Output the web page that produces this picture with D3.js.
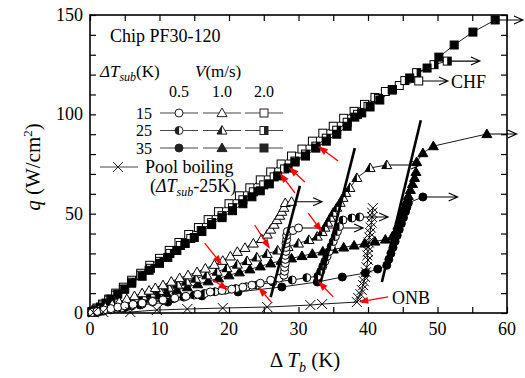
<!DOCTYPE html>
<html>
<head>
<meta charset="utf-8">
<script src="https://d3js.org/d3.v7.min.js"></script>
<style>
body { margin:0; background:#fff; }
text { font-family: "Liberation Serif", "Times New Roman", serif; fill:#000; }
</style>
</head>
<body>
<div id="chart"></div>
<script>
// ---- data: [dTb (K), q (W/cm2)] ----
// V = 2.0 m/s (squares)
var sq15 = [[0.3,0.7],[1,2.5],[1.8,4.5],[2.7,7],[3.7,10],[4.8,13],[6,16.5],[7.3,20],[8.6,24],[10,27.5],[11.4,31.5],[12.8,35.5],[14.2,39.5],[15.6,43],[17,47],[18.5,51],[20,55],[21.5,59],[23,63],[24.5,67],[26,71],[27.5,75],[29,79],[30.5,82.5],[32,86.5],[33.5,90.5],[35,94],[36.5,98],[38,101.5],[39.5,105],[41,108.5],[42.5,111.5],[44.5,114.5],[47.3,116.8]];
var sq25 = [[0.3,0.5],[1,2],[1.8,4],[2.7,6.5],[3.7,9],[4.8,12],[6,15.5],[7.3,19],[8.7,22.5],[10,26],[11.5,30],[13,34],[14.5,37.5],[16,41.5],[17.5,45.5],[19,49],[20.5,53],[22,57],[23.5,61],[25,64.5],[26.5,68.5],[28,72.5],[29.5,76.5],[31,80],[32.5,84],[34,88],[35.5,92],[37,96],[38.5,100],[40,104],[41.5,108],[43.5,112.5],[45.3,117],[47,121],[49.5,125],[51.4,126.8]];
var sq35 = [[0.3,0.5],[0.8,1.5],[1.5,3],[2.3,5],[3,7],[4,9.5],[5,12],[6,15],[7.5,18.5],[8.5,21.5],[10,25],[11.2,28],[12.5,31.5],[13.7,35],[15,38],[16.1,41],[17.5,44.5],[19,48],[20.5,51.5],[22,55],[23.3,58.5],[24.5,61.5],[25.8,65],[27,69],[28.5,73],[29.5,76],[31,79],[32.5,83],[34,86.5],[35.5,90],[37,94],[38.1,98.6],[39.1,100.7],[40.3,103.7],[41.7,107.2],[43.5,112.2],[46,118.3],[48.5,123.3],[50.2,128.8],[52.4,134.9],[55.1,141.4],[58.3,147.5]];
// V = 1.0 m/s (triangles)
var tri15 = [[0.4,0.5],[1.2,1.5],[2.2,2.8],[3.2,4.2],[4.2,5.5],[5.3,7],[6.4,8.5],[7.5,10],[8.5,11.3],[9.4,12.6],[10.5,14],[11.7,15.8],[12.9,17.6],[14.1,19],[15.4,20.6],[16.6,22.4],[17.9,24.3],[19.1,26.3],[20.2,28.5],[21.2,30.8],[22.3,32.8],[23.5,35],[24.7,37.3],[25.5,39.5],[26,42],[26.5,44.5],[26.9,46.8],[27.3,49],[27.6,51],[27.9,53],[28.1,55.4],[29,56]];
var tri25 = [[0.4,0.4],[1.2,1.2],[2.2,2.4],[3.2,3.6],[4.3,4.8],[5.4,6],[6.5,7.2],[7.6,8.4],[8.8,9.8],[10,11.2],[11.3,12.8],[12.6,14.3],[13.9,15.8],[15.2,17.3],[16.8,19],[18.3,20.8],[19.7,22.6],[21.2,24.4],[22.6,26.2],[24,28],[25.5,29.8],[27,31.5],[28.5,33.3],[30,35],[31.5,36.8],[32.7,38.5],[33.4,40.8],[33.8,43],[34.2,45.5],[34.6,48],[35,50.5],[35.5,53],[36,55.5],[36.4,58],[36.8,60.5],[37.4,63],[38.4,68],[40.3,73],[42.7,74.5]];
var tri35 = [[0.4,0.3],[1.3,1],[2.3,2],[3.4,3],[4.5,4],[5.7,5],[7,6.2],[8.3,7.5],[9.7,8.8],[11,10],[12.5,11.5],[14,13],[15.5,14.5],[17,16],[18.5,17.5],[20,19],[21.5,20.5],[23,22],[24.5,23.5],[26,25],[27.5,26.3],[29,27.5],[30.5,28.7],[32,29.8],[33.5,31],[35,32],[36.5,33],[38,34],[39.5,35],[41,36],[42.5,37],[43.5,38.5],[44,41],[44.3,44],[44.6,47],[44.9,50],[45.2,53],[45.5,56],[45.8,59],[46.1,62],[46.4,65],[46.7,68],[46.9,71],[47,76],[47.9,80.5],[49.4,84],[57.1,90.1]];
// V = 0.5 m/s (circles)
var cir15 = [[0.3,0.3],[1,0.8],[2,1.5],[3,2.2],[4,3],[5,3.6],[6.2,4.3],[7.5,5],[9,5.8],[10.5,6.6],[12.2,7.5],[13.8,8.4],[15.5,9.4],[17.3,10.6],[19,11.3],[20.4,12],[22,13],[23.3,14],[24.5,15],[26,16.5],[27.2,17.5],[27.9,19],[28,21],[28,23],[28.1,25],[28.1,27],[28.1,29],[28.2,31],[28.2,33],[28.2,35],[28.3,37],[28.3,39],[28.4,41],[29.2,41.5],[30,42.8]];
var cir25 = [[0.3,0.2],[1,0.5],[2,1],[3,1.7],[4.5,2.5],[6,3.5],[7.5,4.5],[9,5.5],[10.5,6.3],[12,7.2],[13.5,8],[15,9],[16.5,9.8],[18,10.7],[19.5,11.5],[21,12.3],[22.5,13.2],[24,14],[26.3,15.6],[29.1,16.6],[31.2,17.8],[32.8,18.5],[33.2,21],[33.5,23.5],[33.8,26],[34.1,28.5],[34.4,31],[34.7,33.5],[35,36],[35.3,38.5],[35.6,41],[35.9,43.5],[36.4,46.8],[37.7,47.8],[38.8,48.3]];
var cir35 = [[0.3,0.2],[1.5,0.8],[3,1.6],[5,2.8],[7.2,4],[11.2,5.5],[16.1,8.6],[21.3,10.6],[27.6,13.1],[32.7,15.6],[36.3,18.1],[39.6,20.1],[41.4,22.1],[42.7,24],[43,27],[43.3,30],[43.6,33],[43.9,36],[44.2,39],[44.5,42],[44.8,45],[45.1,48],[45.4,51],[45.6,53.3],[45.8,55.4],[47.9,58.4]];
// pool boiling, dTsub = 25 K (crosses)
var pool = [[0.5,0.3],[1.9,0.5],[5.8,0.5],[9.6,1.5],[14,2],[19.1,2.5],[25.5,3],[31.7,4],[33.4,4.5],[38.4,5.5],[38.6,7.5],[38.9,9.5],[39.1,11.6],[39.3,14],[39.4,16],[39.6,18.1],[39.7,20.5],[39.8,23],[40,26.7],[39.9,29],[40,31],[40,33.2],[40.1,35.5],[40.2,38],[40.3,40.3],[40.4,43],[40.5,45.5],[40.6,48.3],[40.6,50.5],[40.7,52.8]];

// CHF arrows: series end -> dTb where the arrow tip sits
var chfEnds = [62.3, 56.1, 51.5, 61.4, 47.5, 33.4, 52.9, 42.9, 39.3];
// thick onset lines [x1,q1,x2,q2]
var onsetLines = [[26.0,8,30.2,64],[33.1,14.1,38.1,83],[42.0,15.6,47.6,97]];
// red ONB arrows [tailX,tailQ,headX,headQ]
var redArrows = [[35.7,76.5,32.8,84],[30.9,65.9,28.6,73.5],[29.5,60.4,27.3,70.5],
  [16.5,35.2,19,24.2],[23.7,44.3,25.9,32.2],[31.4,50.3,33.4,40.8],
  [17.7,16.6,19.9,11.6],[26.2,5,24.2,13.1],[35,8.1,32.8,16.1],[42.9,8.1,38.6,5.5]];

var xTicks = [0,10,20,30,40,50,60];
var yTicks = [0,50,100,150];

var W = 525, H = 378;
var svg = d3.select("#chart").append("svg").attr("width", W).attr("height", H);

var x = d3.scaleLinear().domain([0,60]).range([90,507]);
var y = d3.scaleLinear().domain([0,150]).range([313,15]);

// axes: inward ticks on all four sides
svg.append("g").attr("transform","translate(0,313)")
  .call(d3.axisBottom(x).tickValues(d3.range(0,61,5)).tickSize(-6).tickFormat(""));
svg.append("g").attr("transform","translate(0,15)")
  .call(d3.axisTop(x).tickValues(d3.range(0,61,5)).tickSize(-6).tickFormat(""));
svg.append("g").attr("transform","translate(90,0)")
  .call(d3.axisLeft(y).tickValues(d3.range(0,151,10)).tickSize(-6).tickFormat(""));
svg.append("g").attr("transform","translate(507,0)")
  .call(d3.axisRight(y).tickValues(d3.range(0,151,10)).tickSize(-6).tickFormat(""));
svg.selectAll(".domain").remove();
svg.selectAll(".tick line").attr("stroke","#000").attr("stroke-width",1.2);
svg.append("rect").attr("x",90).attr("y",15).attr("width",417).attr("height",298)
  .attr("fill","none").attr("stroke","#000").attr("stroke-width",1.6);

svg.selectAll(".xl").data(xTicks).enter().append("text")
  .attr("x", function(d){ return x(d); }).attr("y", 335)
  .attr("text-anchor","middle").style("font-size","18px").text(function(d){ return d; });
svg.selectAll(".yl").data(yTicks).enter().append("text")
  .attr("x", 83).attr("y", function(d){ return y(d) + 6; })
  .attr("text-anchor","end").style("font-size","18px").text(function(d){ return d; });

// axis titles
var xt = svg.append("text").attr("x",305).attr("y",367).attr("text-anchor","middle").style("font-size","21px");
xt.append("tspan").text("\u0394 ");
xt.append("tspan").style("font-style","italic").text("T");
xt.append("tspan").style("font-style","italic").style("font-size","14px").attr("dy",5).text("b");
xt.append("tspan").attr("dy",-5).text(" (K)");
var yt = svg.append("text").attr("transform","translate(40,167) rotate(-90)").attr("text-anchor","middle").style("font-size","21px");
yt.append("tspan").style("font-style","italic").text("q");
yt.append("tspan").text(" (W/cm");
yt.append("tspan").style("font-size","13px").attr("dy",-8).text("2");
yt.append("tspan").attr("dy",8).text(")");

// marker drawing
function marker(g, shape, fill, cx, cy, col) {
  col = col || "#000";
  if (shape === "circle") {
    g.append("circle").attr("cx",cx).attr("cy",cy).attr("r",4).attr("fill", fill === "full" ? col : "#fff").attr("stroke",col).attr("stroke-width",1);
    if (fill === "half") g.append("path").attr("d","M"+cx+","+(cy-4)+" A4,4 0 0,0 "+cx+","+(cy+4)+" Z").attr("fill",col);
  } else if (shape === "tri") {
    var p = [[cx,cy-5],[cx+5,cy+3.6],[cx-5,cy+3.6]];
    g.append("path").attr("d","M"+p.join("L")+"Z").attr("fill", fill === "full" ? col : "#fff").attr("stroke",col).attr("stroke-width",1);
    if (fill === "half") g.append("path").attr("d","M"+[[cx,cy-5],[cx,cy+3.6],[cx-5,cy+3.6]].join("L")+"Z").attr("fill",col);
  } else if (shape === "sq") {
    g.append("rect").attr("x",cx-4).attr("y",cy-4).attr("width",8).attr("height",8).attr("fill", fill === "full" ? col : "#fff").attr("stroke",col).attr("stroke-width",1);
    if (fill === "half") g.append("rect").attr("x",cx).attr("y",cy-4).attr("width",4).attr("height",8).attr("fill",col);
  } else if (shape === "x") {
    g.append("path").attr("d","M"+(cx-5)+","+(cy-5)+"L"+(cx+5)+","+(cy+5)+"M"+(cx-5)+","+(cy+5)+"L"+(cx+5)+","+(cy-5))
      .attr("stroke",col).attr("stroke-width",1).attr("fill","none");
  }
}

var series = [
  {d: sq15, s:"sq", f:"open"}, {d: sq25, s:"sq", f:"half"}, {d: sq35, s:"sq", f:"full"},
  {d: tri35, s:"tri", f:"full"}, {d: tri25, s:"tri", f:"half"}, {d: tri15, s:"tri", f:"open"},
  {d: cir35, s:"circle", f:"full"}, {d: cir25, s:"circle", f:"half"}, {d: cir15, s:"circle", f:"open"},
  {d: pool, s:"x", f:"open"}
];
var chfOrder = [sq35, sq25, sq15, tri35, tri25, tri15, cir35, cir25, cir15];

var line = d3.line().x(function(d){ return x(d[0]); }).y(function(d){ return y(d[1]); });
var plot = svg.append("g");
series.forEach(function(s){
  plot.append("path").attr("d", line(s.d)).attr("fill","none").attr("stroke","#000").attr("stroke-width",0.9);
});
// CHF arrows
chfOrder.forEach(function(d, i){
  var last = d[d.length-1], xe = x(chfEnds[i]), yy = y(last[1]);
  plot.append("path").attr("d","M"+x(last[0])+","+yy+"L"+xe+","+yy+"M"+(xe-9)+","+(yy-4)+"L"+xe+","+yy+"L"+(xe-9)+","+(yy+4))
    .attr("fill","none").attr("stroke","#000").attr("stroke-width",1.1);
});
series.forEach(function(s){
  s.d.forEach(function(p){ marker(plot, s.s, s.f, x(p[0]), y(p[1])); });
});
// thick onset lines
onsetLines.forEach(function(l){
  plot.append("line").attr("x1",x(l[0])).attr("y1",y(l[1])).attr("x2",x(l[2])).attr("y2",y(l[3]))
    .attr("stroke","#000").attr("stroke-width",2.6);
});
// red arrows
redArrows.forEach(function(a){
  var x1 = x(a[0]), y1 = y(a[1]), x2 = x(a[2]), y2 = y(a[3]);
  var ang = Math.atan2(y2-y1, x2-x1), L = 10, Wd = 3.5;
  var bx = x2 - L*Math.cos(ang), by = y2 - L*Math.sin(ang);
  plot.append("line").attr("x1",x1).attr("y1",y1).attr("x2",bx).attr("y2",by).attr("stroke","#f00").attr("stroke-width",1.3);
  plot.append("path").attr("d","M"+x2+","+y2+"L"+(bx+Wd*Math.sin(ang))+","+(by-Wd*Math.cos(ang))+"L"+(bx-Wd*Math.sin(ang))+","+(by+Wd*Math.cos(ang))+"Z")
    .attr("fill","#f00");
});
svg.append("text").attr("x",392).attr("y",304).style("font-size","18px").text("ONB");
svg.append("text").attr("x",451).attr("y",88).style("font-size","18px").text("CHF");

// legend
svg.append("text").attr("x",110).attr("y",42).style("font-size","18px").text("Chip PF30-120");
var lt = svg.append("text").attr("x",100).attr("y",77).style("font-size","17px");
lt.append("tspan").style("font-style","italic").text("\u0394T");
lt.append("tspan").style("font-style","italic").style("font-size","12px").attr("dy",4).text("sub");
lt.append("tspan").attr("dy",-4).text("(K)");
var vt = svg.append("text").attr("x",195).attr("y",77).style("font-size","17px");
vt.append("tspan").style("font-style","italic").text("V");
vt.append("tspan").text("(m/s)");
var legV = ["0.5","1.0","2.0"], legSub = ["15","25","35"], legShapes = ["circle","tri","sq"], legFill = ["open","half","full"];
var colX = [179,222,264];
legV.forEach(function(v,i){
  svg.append("text").attr("x",colX[i]).attr("y",97).attr("text-anchor","middle").style("font-size","16px").text(v);
});
legSub.forEach(function(t,j){
  var yy = 113 + j*17.5;
  svg.append("text").attr("x",152).attr("y",yy+5.5).attr("text-anchor","end").style("font-size","16px").text(t);
  legShapes.forEach(function(sh,i){
    svg.append("line").attr("x1",colX[i]-19).attr("x2",colX[i]+19).attr("y1",yy).attr("y2",yy).attr("stroke","#444").attr("stroke-width",1.2);
    marker(svg, sh, legFill[j], colX[i], yy, "#222");
  });
});
svg.append("line").attr("x1",100).attr("x2",138).attr("y1",167).attr("y2",167).attr("stroke","#444").attr("stroke-width",1.2);
marker(svg, "x", "open", 118, 167, "#222");
svg.append("text").attr("x",145).attr("y",173).style("font-size","18px").text("Pool boiling");
var pt = svg.append("text").attr("x",150).attr("y",192).style("font-size","18px");
pt.append("tspan").text("(");
pt.append("tspan").style("font-style","italic").text("\u0394T");
pt.append("tspan").style("font-style","italic").style("font-size","12px").attr("dy",4).text("sub");
pt.append("tspan").attr("dy",-4).text("-25K)");
</script>
</body>
</html>
